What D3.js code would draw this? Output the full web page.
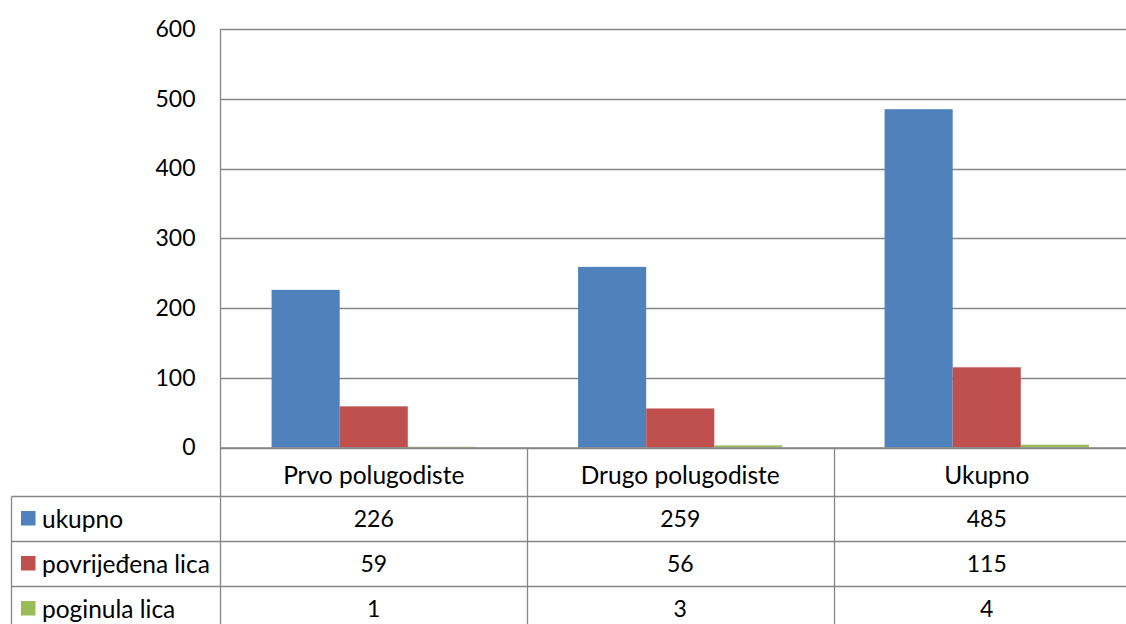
<!DOCTYPE html>
<html><head><meta charset="utf-8">
<script src="https://cdn.jsdelivr.net/npm/d3@7"></script>
<style>body{margin:0;background:#fff}svg{display:block}text{font-family:Lato,"Open Sans",sans-serif;fill:#000}</style>
</head><body>
<svg id="c" width="1126" height="624"></svg>
<script>
const categories = ["Prvo polugodiste", "Drugo polugodiste", "Ukupno"];
const seriesNames = ["ukupno", "povrijeđena lica", "poginula lica"];
const ukupno = [226, 259, 485];
const povrijedjena = [59, 56, 115];
const poginula = [1, 3, 4];
const yTicks = [0, 100, 200, 300, 400, 500, 600];
const colors = ["#4F81BD", "#C0504D", "#9BBB59"];
const seriesValues = [ukupno, povrijedjena, poginula];

const FS_NUM = "23px", FS_TXT = "24.5px";
const svg = d3.select("#c");
const L = 220.5, R = 1140, T = 29, B = 447.5;
const gridColor = "#868686";
const x = d3.scaleBand().domain(categories).range([L, R]).paddingInner(0).paddingOuter(0);
const y = d3.scaleLinear().domain([0, 600]).range([B, T]);
const inner = d3.scaleBand().domain(d3.range(3)).range([0, x.bandwidth()]).paddingOuter(0.75).paddingInner(0);

// gridlines
svg.append("g").selectAll("line").data(yTicks).join("line")
  .attr("x1", L).attr("x2", R).attr("y1", d => Math.round(y(d)) + 0.5).attr("y2", d => Math.round(y(d)) + 0.5)
  .attr("stroke", gridColor).attr("stroke-width", 1.3);

// y labels
const yAxis = d3.axisLeft(y).tickValues(yTicks).tickSize(0).tickPadding(0);
const ga = svg.append("g").attr("transform", `translate(${L - 25},0)`).call(yAxis);
ga.select(".domain").remove();
ga.selectAll("text").style("font-family", "Lato,'Open Sans',sans-serif").style("font-size", FS_NUM).attr("fill", "#000");

// bars
categories.forEach((c, ci) => {
  svg.append("g").selectAll("rect").data(seriesValues.map((s, si) => ({si, v: s[ci]}))).join("rect")
    .attr("x", d => x(c) + inner(d.si))
    .attr("width", inner.bandwidth())
    .attr("y", d => y(d.v))
    .attr("height", d => y(0) - y(d.v))
    .attr("fill", d => colors[d.si]);
});

// axis line and left axis
svg.append("line").attr("x1", L).attr("x2", R).attr("y1", B + 0.5).attr("y2", B + 0.5).attr("stroke", gridColor).attr("stroke-width", 1.3);
svg.append("line").attr("x1", L).attr("x2", L).attr("y1", T).attr("y2", 624).attr("stroke", gridColor).attr("stroke-width", 1.3);

// data table
const rowH = 45;
const tL = 11.5;
const catRowMid = 474;
[496.5, 541.5, 586.5].forEach(yy => {
  svg.append("line").attr("x1", tL).attr("x2", R).attr("y1", yy).attr("y2", yy).attr("stroke", gridColor).attr("stroke-width", 1.3);
});
categories.forEach((c, i) => {
  if (i > 0) svg.append("line").attr("x1", Math.round(x(c)) + 0.5).attr("x2", Math.round(x(c)) + 0.5).attr("y1", B).attr("y2", 624).attr("stroke", gridColor).attr("stroke-width", 1.3);
});
svg.append("line").attr("x1", tL).attr("x2", tL).attr("y1", 496.5).attr("y2", 624).attr("stroke", gridColor).attr("stroke-width", 1.3);

// category labels
svg.append("g").selectAll("text").data(categories).join("text")
  .attr("x", d => x(d) + x.bandwidth() / 2).attr("y", catRowMid)
  .attr("text-anchor", "middle").attr("dominant-baseline", "central")
  .style("font-size", FS_TXT).text(d => d);

// series rows
seriesNames.forEach((name, si) => {
  const cy = 496.5 + rowH * si + rowH / 2 - 1;
  svg.append("rect").attr("x", 21).attr("y", cy - 7).attr("width", 14.5).attr("height", 14.5).attr("fill", colors[si]);
  svg.append("text").attr("x", 42).attr("y", cy).attr("dominant-baseline", "central").style("font-size", FS_TXT).text(name);
  svg.append("g").selectAll("text").data(categories).join("text")
    .attr("x", d => x(d) + x.bandwidth() / 2).attr("y", cy)
    .attr("text-anchor", "middle").attr("dominant-baseline", "central")
    .style("font-size", FS_NUM).text((d, ci) => seriesValues[si][ci]);
});
</script>
</body></html>
